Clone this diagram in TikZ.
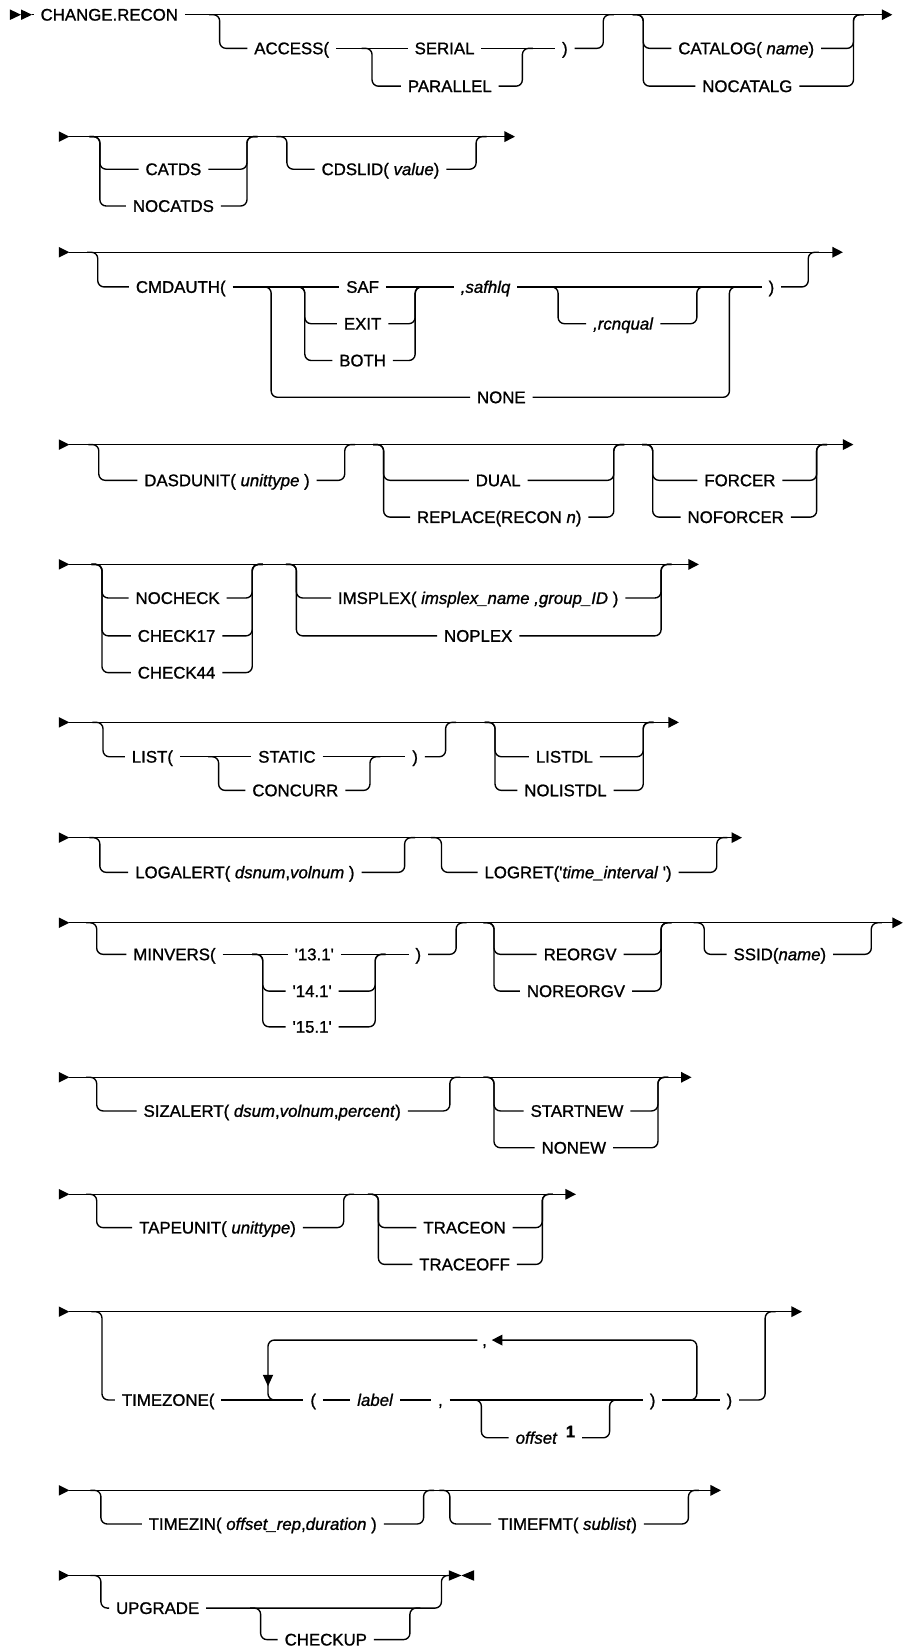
\documentclass[tikz,border=0pt]{standalone}
\usepackage{fontspec}
\setmainfont{Liberation Sans}[FakeBold=1.1, ItalicFeatures={FakeBold=1.1}]
\usetikzlibrary{arrows.meta,calc}
\newcommand\brL[3]{\draw[rnd] (#1-10,#2) -- (#1,#2) |- (#3);}
\newcommand\brR[3]{\draw[rnd] (#1) -| (#2,#3) -- (#2+10,#3);}
\newcommand\rowst[2]{\fill (56,#1-5) -- (66,#1) -- (56,#1+5) -- cycle; \draw[endarr] (66,#1) -- (#2,#1);}
\newcommand\q{\textquotesingle}
\begin{document}
\begin{tikzpicture}[x=1pt,y=-1pt,
  line width=1.3pt,
  rnd/.style={rounded corners=6pt},
  lbl/.style={inner xsep=6pt, inner ysep=0pt, text height=11.2pt, text depth=0pt},
  endarr/.style={-{Triangle[length=10pt,width=10pt]}},
  font=\fontsize{16}{19}\selectfont]
\useasboundingbox (0,0) rectangle (861,1568);

% ---------- Row 1
\node[lbl] (title) at (104,14) {CHANGE.RECON};
\fill (9.5,9) -- (20,14) -- (9.5,19) -- cycle;
\fill (20,9) -- (30.5,14) -- (20,19) -- cycle;
\draw (30.5,14) -- (title);
\draw[endarr] (title) -- (849,14);
\node[lbl] (access) at (277.5,46) {ACCESS(};
\node[lbl] (serial) at (423,46) {SERIAL};
\node[lbl] (parallel) at (428,82) {PARALLEL};
\node[lbl] (rp1) at (537.5,46) {)};
\brL{209}{14}{access}
\draw (access) -- (serial);
\draw (serial) -- (rp1);
\brL{354}{46}{parallel}
\brR{parallel}{497}{46}
\brR{rp1}{574}{14}
\node[lbl] (catalog) at (710,46) {CATALOG( \textit{name})};
\node[lbl] (nocatalg) at (711,82) {NOCATALG};
\brL{612}{14}{catalog} \brL{612}{14}{nocatalg}
\brR{catalog}{812}{14} \brR{nocatalg}{812}{14}

% ---------- Row 2
\rowst{130}{490}
\node[lbl] (catds) at (165,161) {CATDS};
\node[lbl] (nocatds) at (165,196) {NOCATDS};
\node[lbl] (cdslid) at (362,161) {CDSLID( \textit{value})};
\brL{95}{130}{catds} \brL{95}{130}{nocatds}
\brR{catds}{235}{130} \brR{nocatds}{235}{130}
\brL{273}{130}{cdslid} \brR{cdslid}{453}{130}

% ---------- Row 3
\rowst{240}{802}
\node[lbl] (cmdauth) at (172,273) {CMDAUTH(};
\node[lbl] (saf) at (345,273) {SAF};
\node[lbl] (exit) at (345,308) {EXIT};
\node[lbl] (both) at (345,343) {BOTH};
\node[lbl] (safhlq) at (462,273) {\textit{,safhlq}};
\node[lbl] (rcnqual) at (593,308) {\textit{,rcnqual}};
\node[lbl] (none) at (477,378) {NONE};
\node[lbl] (rp3) at (734,273) {)};
\brL{93}{240}{cmdauth}
\draw (cmdauth) -- (saf);
\brL{258}{273}{none}
\brL{290}{273}{exit} \brL{290}{273}{both}
\brR{exit}{395}{273} \brR{both}{395}{273}
\draw (saf) -- (safhlq);
\draw (safhlq) -- (rp3);
\brL{531}{273}{rcnqual} \brR{rcnqual}{663}{273}
\brR{none}{694}{273}
\brR{rp3}{769}{240}

% ---------- Row 4
\rowst{423}{812}
\node[lbl] (dasdunit) at (216,457) {DASDUNIT( \textit{unittype} )};
\node[lbl] (dual) at (474,457) {DUAL};
\node[lbl] (replace) at (475,492) {REPLACE(RECON \textit{n})};
\node[lbl] (forcer) at (704,457) {FORCER};
\node[lbl] (noforcer) at (700,492) {NOFORCER};
\brL{94}{423}{dasdunit} \brR{dasdunit}{328}{423}
\brL{365}{423}{dual} \brL{365}{423}{replace}
\brR{dual}{584}{423} \brR{replace}{584}{423}
\brL{621}{423}{forcer} \brL{621}{423}{noforcer}
\brR{forcer}{777}{423} \brR{noforcer}{777}{423}

% ---------- Row 5
\rowst{537}{665}
\node[lbl] (nocheck) at (169,569) {NOCHECK};
\node[lbl] (check17) at (168,605) {CHECK17};
\node[lbl] (check44) at (168,640) {CHECK44};
\node[lbl] (imsplex) at (455,569) {IMSPLEX( \textit{imsplex\_name ,group\_ID} )};
\node[lbl] (noplex) at (455,605) {NOPLEX};
\brL{97}{537}{nocheck} \brL{97}{537}{check17} \brL{97}{537}{check44}
\brR{nocheck}{240}{537} \brR{check17}{240}{537} \brR{check44}{240}{537}
\brL{282}{537}{imsplex} \brL{282}{537}{noplex}
\brR{imsplex}{629}{537} \brR{noplex}{629}{537}

% ---------- Row 6
\rowst{687.3}{646}
\node[lbl] (list) at (145,720) {LIST(};
\node[lbl] (static) at (273,720) {STATIC};
\node[lbl] (concurr) at (281,752) {CONCURR};
\node[lbl] (rp6) at (395,720) {)};
\node[lbl] (listdl) at (537,720) {LISTDL};
\node[lbl] (nolistdl) at (538,752) {NOLISTDL};
\brL{98}{687.3}{list}
\draw (list) -- (static);
\draw (static) -- (rp6);
\brL{208}{720}{concurr} \brR{concurr}{352}{720}
\brR{rp6}{424}{687.3}
\brL{471}{687.3}{listdl} \brL{471}{687.3}{nolistdl}
\brR{listdl}{612}{687.3} \brR{nolistdl}{612}{687.3}

% ---------- Row 7
\rowst{797}{706}
\node[lbl] (logalert) at (233,830) {LOGALERT( \textit{dsnum},\textit{volnum} )};
\node[lbl] (logret) at (550,830) {LOGRET(\q\textit{time\_interval} \q)};
\brL{95}{797}{logalert} \brR{logalert}{385}{797}
\brL{420}{797}{logret} \brR{logret}{682}{797}

% ---------- Row 8
\rowst{878}{859}
\node[lbl] (minvers) at (166,908) {MINVERS(};
\node[lbl] (v131) at (299,908) {\q13.1\q};
\node[lbl] (v141) at (297,943) {\q14.1\q};
\node[lbl] (v151) at (297,977) {\q15.1\q};
\node[lbl] (rp8) at (398,908) {)};
\node[lbl] (reorgv) at (552,908) {REORGV};
\node[lbl] (noreorgv) at (548,943) {NOREORGV};
\node[lbl] (ssid) at (742,908) {SSID(\textit{name})};
\brL{92}{878}{minvers}
\draw (minvers) -- (v131);
\draw (v131) -- (rp8);
\brL{250}{908}{v141} \brL{250}{908}{v151}
\brR{v141}{357}{908} \brR{v151}{357}{908}
\brR{rp8}{434}{878}
\brL{470}{878}{reorgv} \brL{470}{878}{noreorgv}
\brR{reorgv}{629}{878} \brR{noreorgv}{629}{878}
\brL{670}{878}{ssid} \brR{ssid}{829}{878}

% ---------- Row 9
\rowst{1025}{658}
\node[lbl] (sizalert) at (259,1057) {SIZALERT( \textit{dsum},\textit{volnum},\textit{percent})};
\node[lbl] (startnew) at (549,1057) {STARTNEW};
\node[lbl] (nonew) at (546,1092) {NONEW};
\brL{92}{1025}{sizalert} \brR{sizalert}{428}{1025}
\brL{470}{1025}{startnew} \brL{470}{1025}{nonew}
\brR{startnew}{626}{1025} \brR{nonew}{626}{1025}

% ---------- Row 10
\rowst{1136.3}{548}
\node[lbl] (tapeunit) at (207,1168) {TAPEUNIT( \textit{unittype})};
\node[lbl] (traceon) at (442,1168) {TRACEON};
\node[lbl] (traceoff) at (442,1203) {TRACEOFF};
\brL{92}{1136.3}{tapeunit} \brR{tapeunit}{327}{1136.3}
\brL{360}{1136.3}{traceon} \brL{360}{1136.3}{traceoff}
\brR{traceon}{516}{1136.3} \brR{traceoff}{516}{1136.3}

% ---------- Row 11
\rowst{1248}{763}
\node[lbl] (timezone) at (160,1332) {TIMEZONE(};
\node[lbl] (lp11) at (298,1332) {(};
\node[lbl] (label) at (357,1332) {\textit{label}};
\node[lbl] (comma11) at (419,1332) {,};
\node[lbl] (rp11a) at (621,1332) {)};
\node[lbl] (rp11b) at (694,1332) {)};
\node[lbl, anchor=west] (offset) at (484,1368) {\textit{offset}\hspace{8pt}\raisebox{6pt}{\textbf{1}}};
\node[lbl, inner xsep=4pt] (sep) at (461,1275) {,};
\brL{97}{1248}{timezone}
\draw (timezone) -- (lp11);
\draw (lp11) -- (label);
\draw (label) -- (comma11);
\draw (comma11) -- (rp11a);
\draw (rp11a) -- (rp11b);
\brL{458}{1332}{offset} \brR{offset}{580}{1332}
\coordinate (loopR) at (663,1332);
\coordinate (loopL) at (255,1332);
\draw[rnd, endarr] ($(loopR)+(-10,0)$) -- (loopR) |- (sep);
\draw[rnd] (sep) -| (loopL) -- ($(loopL)+(10,0)$);
\fill (250,1308) -- (260,1308) -- (255,1319) -- cycle;
\brR{rp11b}{728}{1248}

% ---------- Row 12
\rowst{1418}{686}
\node[lbl] (timezin) at (250,1450) {TIMEZIN( \textit{offset\_rep},\textit{duration} )};
\node[lbl] (timefmt) at (540,1450) {TIMEFMT( \textit{sublist})};
\brL{96}{1418}{timezin} \brR{timezin}{403}{1418}
\brL{428}{1418}{timefmt} \brR{timefmt}{655}{1418}

% ---------- Row 13
\fill (56,1494) -- (66,1499) -- (56,1504) -- cycle;
\draw (66,1499) -- (427,1499);
\fill (427,1494) -- (439,1499) -- (427,1504) -- cycle;
\fill (451,1494) -- (439,1499) -- (451,1504) -- cycle;
\node[lbl] (upgrade) at (150,1530) {UPGRADE};
\node[lbl] (checkup) at (310,1560) {CHECKUP};
\brL{96}{1499}{upgrade} \brR{upgrade}{420}{1499}
\brL{248}{1530}{checkup} \brR{checkup}{390}{1530}
\end{tikzpicture}
\end{document}
